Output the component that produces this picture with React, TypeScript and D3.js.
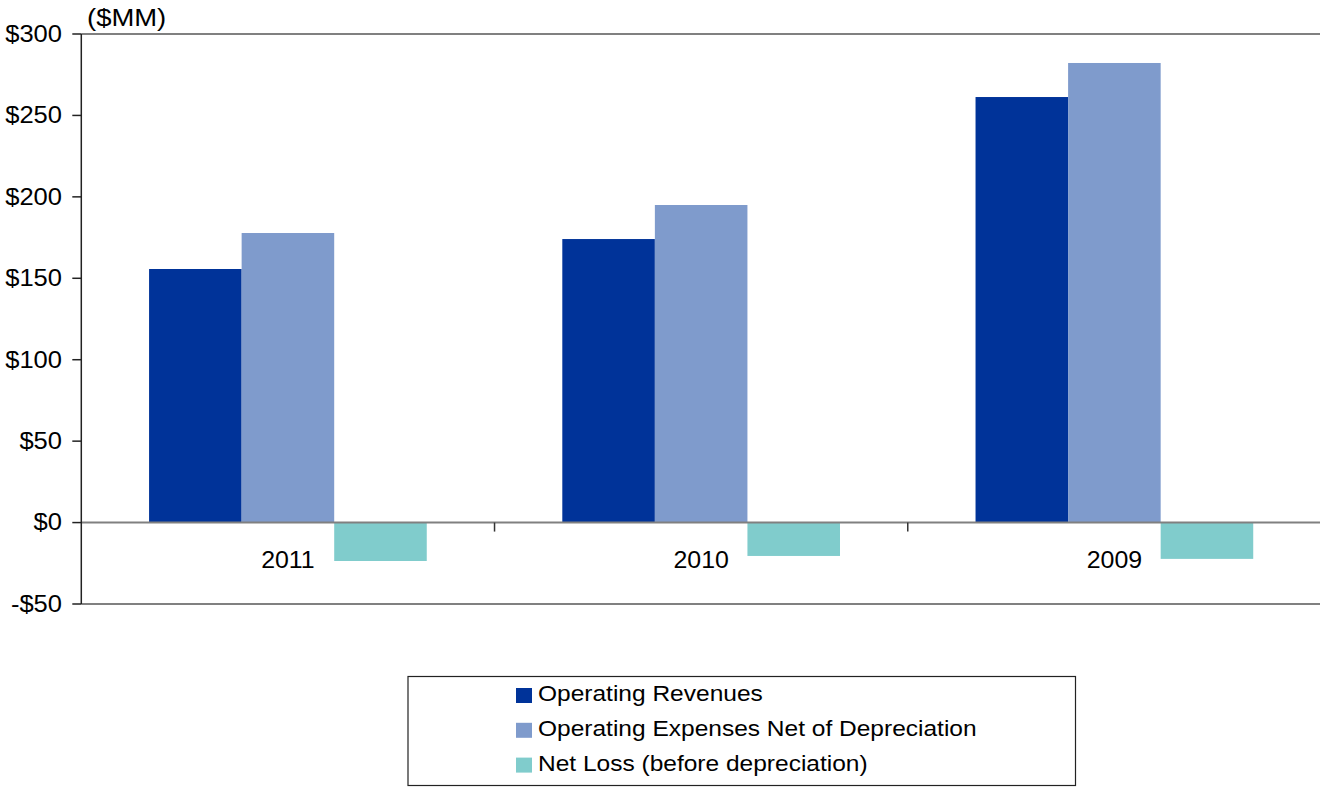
import React from "react";
import * as d3 from "d3";

const categories = ["2011", "2010", "2009"];
const seriesNames = [
  "Operating Revenues",
  "Operating Expenses Net of Depreciation",
  "Net Loss (before depreciation)",
];
const operatingRevenues = [155.7, 174.1, 261.3];
const operatingExpenses = [177.8, 195.0, 282.2];
const netLoss = [-23.6, -20.5, -22.3];
const yTicks = [-50, 0, 50, 100, 150, 200, 250, 300];
const colors = ["#003399", "#7F9BCC", "#80CCCC"];

const W = 1320;
const H = 787;
const left = 81.3;
const right = 1321;
const top = 34;
const bottom = 604;
const FONT = "'Liberation Sans', Arial, sans-serif";

function SText(props: {
  x: number;
  y: number;
  sx: number;
  size: number;
  anchor?: "start" | "middle" | "end";
  children: React.ReactNode;
}) {
  const { x, y, sx, size, anchor = "start", children } = props;
  return (
    <text
      transform={`translate(${x},${y}) scale(${sx},1)`}
      textAnchor={anchor}
      fontSize={size}
      fill="#000"
    >
      {children}
    </text>
  );
}

export default function App() {
  const series = [operatingRevenues, operatingExpenses, netLoss];
  const x = d3.scaleBand<string>().domain(categories).range([left, right]).padding(0);
  const y = d3.scaleLinear().domain([-50, 300]).range([bottom, top]);
  const bw = x.bandwidth();
  const inner = d3
    .scaleBand<number>()
    .domain([0, 1, 2])
    .range([bw * 0.164, bw * (1 - 0.164)])
    .padding(0);
  const fmt = (v: number) => (v < 0 ? `-$${Math.abs(v)}` : `$${v}`);

  return (
    <svg
      width={W}
      height={H}
      style={{ position: "absolute", left: 0, top: 0, fontFamily: FONT }}
    >
      <rect width={W} height={H} fill="#fff" />
      {categories.map((c, ci) =>
        series.map((s, si) => {
          const v = s[ci];
          const y0 = y(0);
          const yv = y(v);
          return (
            <rect
              key={`${c}-${si}`}
              x={(x(c) as number) + (inner(si) as number)}
              y={Math.min(y0, yv)}
              width={inner.bandwidth()}
              height={Math.abs(yv - y0)}
              fill={colors[si]}
            />
          );
        })
      )}
      <line x1={left} x2={W} y1={top} y2={top} stroke="#808080" strokeWidth={2} />
      <line x1={left} x2={W} y1={bottom} y2={bottom} stroke="#808080" strokeWidth={2} />
      <line x1={left} x2={W} y1={y(0)} y2={y(0)} stroke="#808080" strokeWidth={2} />
      {categories.slice(1).map((c) => (
        <line
          key={`ct-${c}`}
          x1={x(c) as number}
          x2={x(c) as number}
          y1={y(0)}
          y2={y(0) + 9}
          stroke="#333"
          strokeWidth={1.5}
        />
      ))}
      <line x1={left} x2={left} y1={top} y2={bottom} stroke="#222" strokeWidth={1.5} />
      {yTicks.map((t) => (
        <g key={`yt-${t}`}>
          <line x1={left - 9} x2={left} y1={y(t)} y2={y(t)} stroke="#222" strokeWidth={1.5} />
          <SText x={62} y={y(t) + 7.8} sx={1.11} size={23} anchor="end">
            {fmt(t)}
          </SText>
        </g>
      ))}
      {categories.map((c) => (
        <SText key={`cl-${c}`} x={(x(c) as number) + bw / 2} y={568} sx={1.06} size={23.5} anchor="middle">
          {c}
        </SText>
      ))}
      <SText x={87} y={26} sx={1.12} size={24.5}>
        ($MM)
      </SText>
      <rect x={408} y={676.5} width={667.5} height={109} fill="#fff" stroke="#222" strokeWidth={1.2} />
      {seriesNames.map((n, i) => (
        <g key={`lg-${i}`}>
          <rect x={516} y={688 + i * 34.8} width={16} height={15} fill={colors[i]} />
          <SText x={538} y={701 + i * 34.8} sx={1.09} size={22.5}>
            {n}
          </SText>
        </g>
      ))}
    </svg>
  );
}
